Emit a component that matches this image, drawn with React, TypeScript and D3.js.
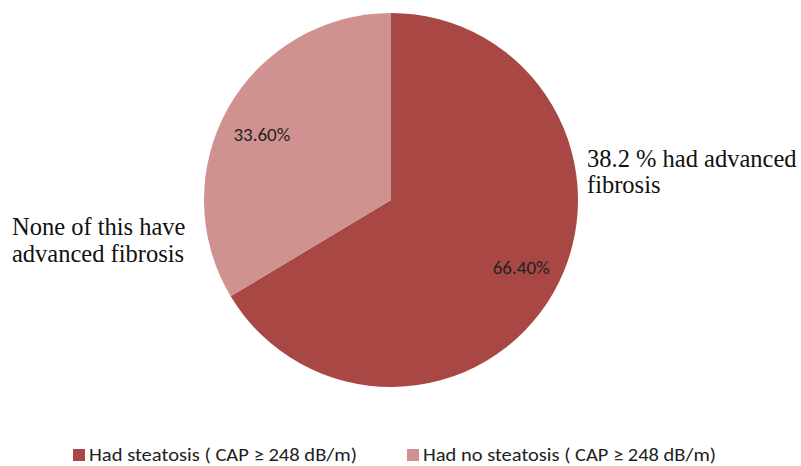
import React from "react";
import * as d3 from "d3";

const categories = ["Had steatosis ( CAP ≥ 248 dB/m)", "Had no steatosis ( CAP ≥ 248 dB/m)"];
const shares = [66.4, 33.6];
const sliceLabels = ["66.40%", "33.60%"];
const colors = ["#A84744", "#D09290"];
const noteRight = ["38.2 % had advanced", "fibrosis"];
const noteLeft = ["None of this have", "advanced fibrosis"];

const W = 801;
const H = 466;
const cx = 391;
const cy = 200;
const R = 187;

export default function App() {
  const pie = d3.pie<number>().sort(null).value((d) => d);
  const arcs = pie(shares);
  const arc = d3.arc<d3.PieArcDatum<number>>().innerRadius(0).outerRadius(R);
  const labelArc = d3.arc<d3.PieArcDatum<number>>().innerRadius(R * 0.8).outerRadius(R * 0.8);
  const sans = "Carlito, 'Liberation Sans Narrow', 'Open Sans', sans-serif";
  const serif = "'Liberation Serif', 'DejaVu Serif', serif";

  const legendX = [73, 407];
  const legendW = [268, 293];

  return (
    <svg width={W} height={H} style={{ position: "absolute", left: 0, top: 0 }}>
      <rect width={W} height={H} fill="#fff" />
      <g transform={`translate(${cx},${cy})`}>
        {arcs.map((a, i) => (
          <path key={i} d={arc(a) || ""} fill={colors[i]} />
        ))}
        {arcs.map((a, i) => {
          const [x, y] = labelArc.centroid(a);
          const pos = i === 0 ? [x, y - 6] : [x + 1, y + 8];
          return (
            <text
              key={i}
              x={pos[0]}
              y={pos[1]}
              textAnchor="middle"
              dominantBaseline="central"
              fontFamily={sans}
              fontSize={19}
              fill="#222"
            >
              {sliceLabels[i]}
            </text>
          );
        })}
      </g>
      {noteRight.map((t, i) => (
        <text key={t} x={587} y={167 + i * 26} fontFamily={serif} fontSize={24.5} fill="#111">
          {t}
        </text>
      ))}
      {noteLeft.map((t, i) => (
        <text key={t} x={12} y={235 + i * 27} fontFamily={serif} fontSize={24.5} fill="#111">
          {t}
        </text>
      ))}
      {categories.map((c, i) => (
        <g key={c}>
          <rect x={legendX[i]} y={449} width={12} height={12} fill={colors[i]} />
          <text
            x={legendX[i] + 16}
            y={461}
            fontFamily={sans}
            fontSize={19}
            fill="#222"
            textLength={legendW[i]}
            lengthAdjust="spacingAndGlyphs"
          >
            {c}
          </text>
        </g>
      ))}
    </svg>
  );
}
